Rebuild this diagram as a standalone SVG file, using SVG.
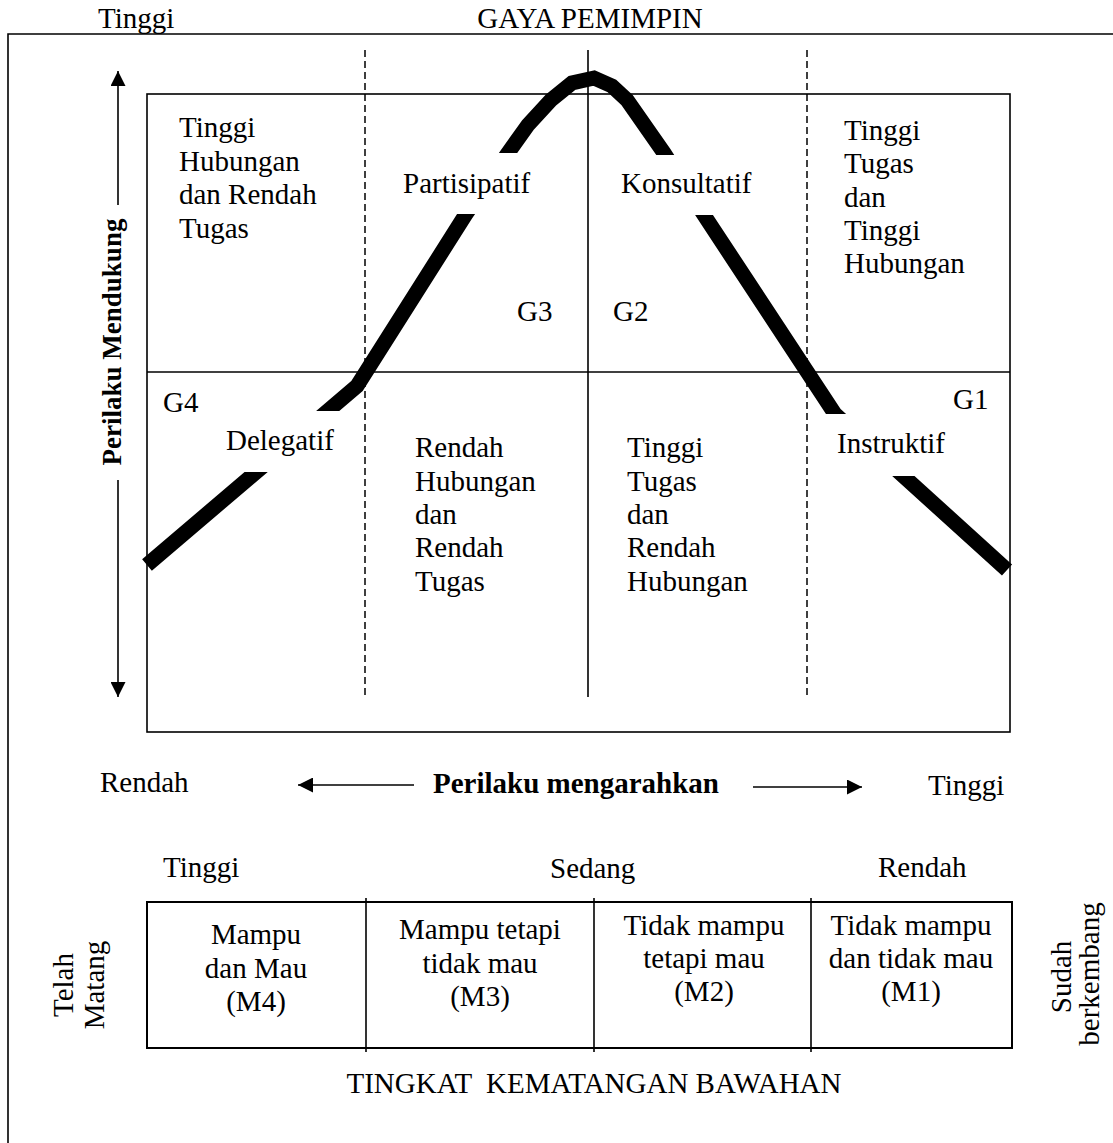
<svg xmlns="http://www.w3.org/2000/svg" width="1113" height="1143" viewBox="0 0 1113 1143">
<style>
text{font-family:"Liberation Serif","Times New Roman",serif;font-size:29px;fill:#000}
.b{font-weight:bold}
.m{text-anchor:middle}
.ln{stroke:#000;stroke-width:1.6;fill:none}
.dash{stroke:#000;stroke-width:1.5;stroke-dasharray:7,4;fill:none}
.ax{stroke:#000;stroke-width:1.6;fill:none;marker-end:url(#ah)}
.gap{fill:#fff;stroke:none}
</style>
<defs>
<marker id="ah" viewBox="0 0 10 10" refX="10" refY="5" markerWidth="15" markerHeight="15" markerUnits="userSpaceOnUse" orient="auto">
<path d="M0,0 L10,5 L0,10 z" fill="#000"/>
</marker>
</defs>
<rect width="1113" height="1143" fill="#fff"/>
<g id="frame">
<path class="ln" d="M8,1143 V34 H1113"/>
</g>
<g id="title">
<text x="98" y="28">Tinggi</text>
<text class="m" x="590" y="28">GAYA PEMIMPIN</text>
</g>
<g id="grid">
<rect class="ln" x="147" y="94" width="863" height="638"/>
<line class="ln" x1="147" y1="372" x2="1010" y2="372"/>
<line class="ln" x1="588" y1="50" x2="588" y2="697"/>
<line class="dash" x1="365" y1="50" x2="365" y2="697"/>
<line class="dash" x1="807" y1="50" x2="807" y2="697"/>
</g>
<g id="connectors">
<line class="ax" x1="118" y1="205" x2="118" y2="71"/>
<line class="ax" x1="118" y1="480" x2="118" y2="697"/>
<line class="ax" x1="414" y1="785" x2="298" y2="785"/>
<line class="ax" x1="753" y1="787" x2="862" y2="787"/>
</g>
<g id="curve">
<path d="M147,565 L357,386 L466,214 L508,153 L528,125 L551,100 L572,83 L594,78 L612,86 L627,100 L664,153 L704,215 L835,414 L1007,570" fill="none" stroke="#000" stroke-width="15" stroke-linejoin="miter" stroke-linecap="butt"/>
<rect class="gap" x="430" y="153" width="110" height="61"/>
<rect class="gap" x="640" y="155" width="90" height="60"/>
<rect class="gap" x="225" y="411" width="125" height="61"/>
<rect class="gap" x="815" y="414" width="110" height="62"/>
</g>
<g id="y-axis-label">
<text class="b m" style="font-size:27px" transform="translate(121,342) rotate(-90)">Perilaku Mendukung</text>
</g>
<g id="q-tl">
<text x="179" y="137">Tinggi</text>
<text x="179" y="171">Hubungan</text>
<text x="179" y="204">dan Rendah</text>
<text x="179" y="238">Tugas</text>
</g>
<g id="q-tr">
<text x="844" y="140">Tinggi</text>
<text x="844" y="173">Tugas</text>
<text x="844" y="207">dan</text>
<text x="844" y="240">Tinggi</text>
<text x="844" y="273">Hubungan</text>
</g>
<g id="q-bl">
<text x="415" y="457">Rendah</text>
<text x="415" y="491">Hubungan</text>
<text x="415" y="524">dan</text>
<text x="415" y="557">Rendah</text>
<text x="415" y="591">Tugas</text>
</g>
<g id="q-br">
<text x="627" y="457">Tinggi</text>
<text x="627" y="491">Tugas</text>
<text x="627" y="524">dan</text>
<text x="627" y="557">Rendah</text>
<text x="627" y="591">Hubungan</text>
</g>
<g id="styles">
<text x="403" y="193">Partisipatif</text>
<text x="621" y="193">Konsultatif</text>
<text x="226" y="450">Delegatif</text>
<text x="837" y="453">Instruktif</text>
<text x="517" y="321">G3</text>
<text x="613" y="321">G2</text>
<text x="163" y="412">G4</text>
<text x="953" y="409">G1</text>
</g>
<g id="x-axis">
<text x="100" y="792">Rendah</text>
<text class="b" x="433" y="793">Perilaku mengarahkan</text>
<text x="928" y="795">Tinggi</text>
</g>
<g id="levels">
<text x="163" y="877">Tinggi</text>
<text x="550" y="878">Sedang</text>
<text x="878" y="877">Rendah</text>
</g>
<g id="maturity-box">
<rect x="147" y="902" width="865" height="146" fill="none" stroke="#000" stroke-width="2"/>
<line class="ln" x1="366" y1="898" x2="366" y2="1052"/>
<line class="ln" x1="594" y1="898" x2="594" y2="1052"/>
<line class="ln" x1="811" y1="898" x2="811" y2="1052"/>
</g>
<g id="M4">
<text class="m" x="256" y="944">Mampu</text>
<text class="m" x="256" y="978">dan Mau</text>
<text class="m" x="256" y="1011">(M4)</text>
</g>
<g id="M3">
<text class="m" x="480" y="939">Mampu tetapi</text>
<text class="m" x="480" y="973">tidak mau</text>
<text class="m" x="480" y="1006">(M3)</text>
</g>
<g id="M2">
<text class="m" x="704" y="935">Tidak mampu</text>
<text class="m" x="704" y="968">tetapi mau</text>
<text class="m" x="704" y="1001">(M2)</text>
</g>
<g id="M1">
<text class="m" x="911" y="935">Tidak mampu</text>
<text class="m" x="911" y="968">dan tidak mau</text>
<text class="m" x="911" y="1001">(M1)</text>
</g>
<g id="side-labels">
<text class="m" transform="translate(73,985) rotate(-90)">Telah</text>
<text class="m" transform="translate(104,985) rotate(-90)">Matang</text>
<text class="m" transform="translate(1071,977) rotate(-90)">Sudah</text>
<text class="m" transform="translate(1099,974) rotate(-90)">berkembang</text>
</g>
<g id="footer">
<text class="m" x="594" y="1093" xml:space="preserve">TINGKAT  KEMATANGAN BAWAHAN</text>
</g>
</svg>
